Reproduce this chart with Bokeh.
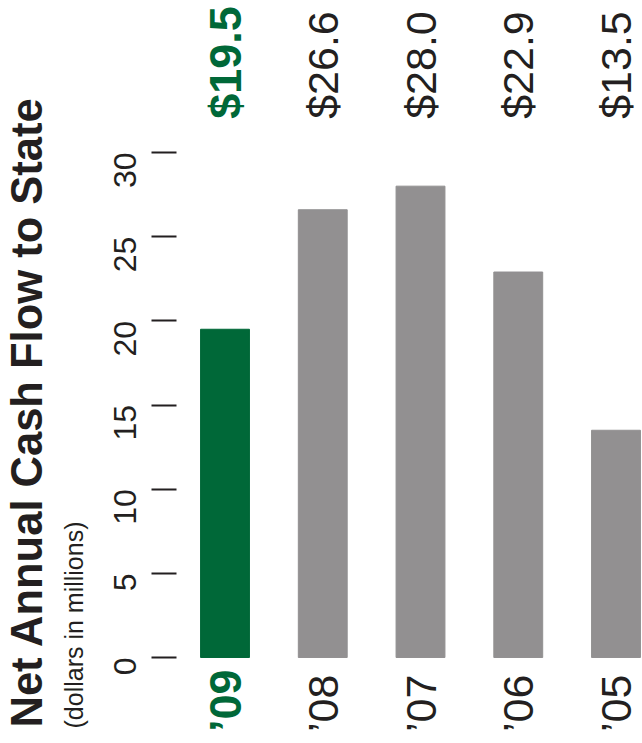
import math
from bokeh.plotting import figure
from bokeh.models import Range1d, FixedTicker, Title, ColumnDataSource
from bokeh.core.properties import value
from bokeh.embed import file_html
from bokeh.resources import INLINE

# ---- data ----
categories = ["\u201909", "\u201908", "\u201907", "\u201906", "\u201905"]
values = [19.5, 26.6, 28.0, 22.9, 13.5]
value_labels = ["$19.5", "$26.6", "$28.0", "$22.9", "$13.5"]
highlight = [True, False, False, False, False]
y_ticks = [0, 5, 10, 15, 20, 25, 30]
title_text = "Net Annual Cash Flow to State"
subtitle_text = "(dollars in millions)"

GREEN = "#006838"
GRAY = "#929091"
INK = "#231f20"
FONT = "Liberation Sans"

xs = list(range(len(categories)))
bar_colors = [GREEN if h else GRAY for h in highlight]
txt_colors = [GREEN if h else INK for h in highlight]

p = figure(width=642, height=743, output_backend="svg", toolbar_location=None,
           x_range=Range1d(-0.4962, 4.2711), y_range=Range1d(-5.109, 39.03),
           min_border_left=176, min_border_right=0, min_border_top=0,
           min_border_bottom=0, x_axis_location=None)
p.outline_line_color = None
p.grid.visible = False
p.background_fill_color = "white"
p.border_fill_color = "white"

bars = ColumnDataSource(dict(x=xs, top=values, color=bar_colors))
p.vbar(x="x", top="top", bottom=0, width=0.5, color="color", source=bars)

ax = p.yaxis[0]
ax.ticker = FixedTicker(ticks=y_ticks)
ax.axis_line_color = None
ax.major_tick_in = 0
ax.major_tick_out = 25
ax.major_tick_line_width = 2
ax.major_tick_line_color = INK
ax.minor_tick_line_color = None
ax.major_label_orientation = math.pi / 2
ax.major_label_text_font = FONT
ax.major_label_text_font_size = "32px"
ax.major_label_text_color = INK
ax.major_label_standoff = 26


def split(flag):
    idx = [i for i, h in enumerate(highlight) if h == flag]
    return ColumnDataSource(dict(
        x=[xs[i] for i in idx],
        cat=[categories[i] for i in idx],
        val=[value_labels[i] for i in idx],
        color=[txt_colors[i] for i in idx],
        vy=[32.0 for i in idx],
        cy=[-4.43 for i in idx],
    ))


for flag, style, size in [(True, "bold", "45px"), (False, "normal", "43px")]:
    src = split(flag)
    p.text(x="x", y="vy", text="val", source=src, angle=math.pi / 2,
           text_align="left", text_baseline="middle", text_color="color",
           text_font=value(FONT), text_font_style=style, text_font_size=size)
    p.text(x="x", y="cy", text="cat", source=src, angle=math.pi / 2,
           text_align="left", text_baseline="middle", text_color="color",
           text_font=value(FONT), text_font_style=style, text_font_size=size)

sub = Title(text=subtitle_text, align="left", offset=15, text_font=FONT,
            text_font_size="25px", text_font_style="normal", text_color=INK,
            vertical_align="top", standoff=22)
main = Title(text=title_text, align="left", offset=16, text_font=FONT,
             text_font_size="43.5px", text_font_style="bold", text_color=INK,
             vertical_align="bottom", standoff=-4)
p.add_layout(sub, "left")
p.add_layout(main, "left")

open("out.html", "w").write(file_html(p, INLINE))
